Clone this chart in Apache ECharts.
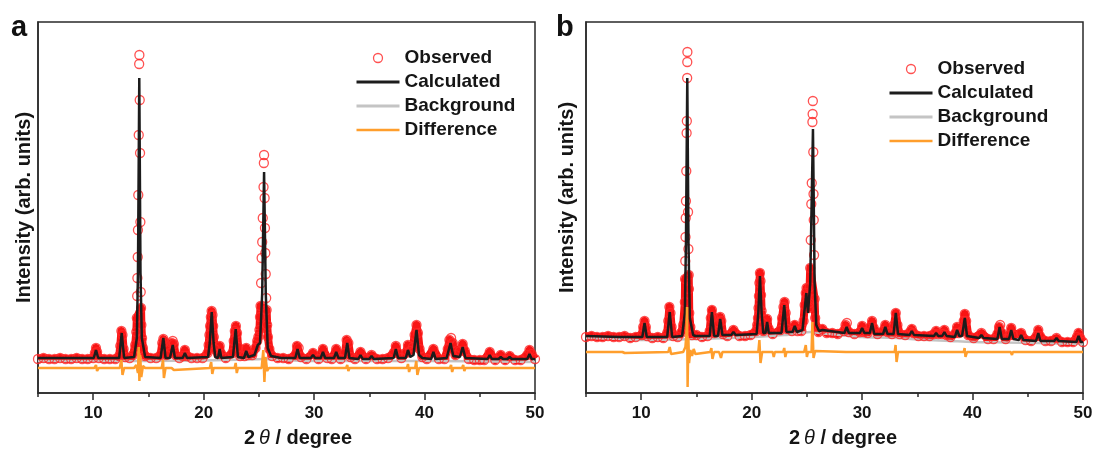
<!DOCTYPE html>
<html><head><meta charset="utf-8">
<script src="https://cdn.jsdelivr.net/npm/echarts@6/dist/echarts.min.js"></script>
<style>html,body{margin:0;padding:0;background:#fff}#c{width:1097px;height:451px}</style>
</head><body><div id="c"></div>
<script>
// ---- data (2θ in degree, intensity in arbitrary units) ----
const xMajorTicks = [10, 20, 30, 40, 50];
const panelLabels = ['a', 'b'];
const seriesNames = ['Observed', 'Calculated', 'Background', 'Difference'];

const obsA = [
[5,34],[5.5,35],[6,34],[6.5,34],[7,35],[7.5,34],[8,34],[8.5,35],[9,34],[9.5,34],
[10.0,35],[10.15,40],[10.25,45],[10.35,41],[10.5,35],
[11,34],[11.5,34],[12,34],
[12.35,37],[12.45,47],[12.55,62],[12.65,58],[12.75,44],[12.9,36],
[13.3,35],[13.6,38],[13.8,48],[13.9,61],[13.95,75],[13.98,97],[14.0,115],[14.03,136],[14.05,163],[14.08,198],[14.12,258],[14.16,329],[14.18,338],[14.21,293],[14.24,240],[14.27,171],[14.3,101],[14.33,85],[14.36,68],[14.42,55],[14.5,45],[14.7,37],
[15.2,35],[15.7,35],
[16.1,38],[16.25,50],[16.35,54],[16.45,51],[16.6,38],
[16.95,40],[17.1,50],[17.2,52],[17.3,49],[17.45,38],
[17.8,35],[18.1,37],[18.3,43],[18.5,37],[18.9,35],[19.4,35],[19.9,35],
[20.35,40],[20.45,48],[20.52,58],[20.58,67],[20.65,76],[20.72,82],[20.8,78],[20.86,67],[20.92,56],[21.0,44],
[21.3,39],[21.45,47],[21.6,39],[22.0,35],
[22.6,40],[22.72,52],[22.82,62],[22.92,67],[23.02,60],[23.12,46],[23.3,37],
[23.7,37],[23.85,45],[24.0,38],[24.4,38],
[24.7,45],[24.85,52],[24.95,56],[25.05,63],[25.1,76],[25.15,87],[25.2,110],[25.25,135],[25.3,151],[25.35,175],[25.42,206],[25.45,230],[25.47,238],[25.52,195],[25.55,165],[25.58,140],[25.62,119],[25.66,95],[25.7,83],[25.75,68],[25.82,56],[25.95,44],[26.2,37],
[26.7,35],[27.2,35],[27.7,34],
[28.3,38],[28.45,47],[28.6,45],[28.8,36],
[29.3,34],[29.9,40],[30.4,34],[30.8,44],[31.2,35],[31.6,34],[32.0,44],[32.4,34],
[32.8,40],[32.95,53],[33.1,50],[33.3,36],
[33.7,34],[34.2,41],[34.7,34],[35.2,38],[35.7,34],[36.2,34],[36.7,35],
[37.2,40],[37.4,47],[37.6,40],[37.9,35],
[38.3,40],[38.5,48],[38.7,42],[38.95,46],[39.1,58],[39.27,68],[39.4,60],[39.55,44],[39.8,36],
[40.2,34],[40.8,44],[41.3,34],[41.8,34],
[42.1,44],[42.25,53],[42.4,55],[42.55,50],[42.8,38],
[43.2,42],[43.45,49],[43.65,42],[44.0,34],[44.5,33],[45.0,33],[45.4,33],
[45.9,41],[46.4,33],[46.9,38],[47.3,33],[47.7,37],[48.2,33],[48.7,33],
[49.3,38],[49.5,43],[49.7,39],[50,34]
];
const calcA = [
[5,35],[8,35],[10.05,35],[10.25,43],[10.45,35],
[12.35,35],[12.58,60],[12.8,35],
[13.7,36],[13.95,55],[14.05,120],[14.17,315],[14.28,120],[14.4,55],[14.7,36],
[16.1,35],[16.35,55],[16.55,35],
[16.95,35],[17.2,48],[17.4,35],
[18.1,35],[18.3,40],[18.5,35],
[20.4,36],[20.55,50],[20.73,81],[20.9,50],[21.05,36],
[21.3,35],[21.45,44],[21.6,35],
[22.65,36],[22.9,64],[23.1,36],
[23.65,35],[23.85,42],[24.05,36],
[24.6,38],[24.9,48],[25.1,50],[25.3,100],[25.47,221],[25.62,100],[25.8,45],[26.1,37],
[27.0,35],
[28.3,35],[28.5,44],[28.7,35],
[29.7,35],[29.9,38],[30.1,35],
[30.6,35],[30.8,41],[31.0,35],
[31.8,35],[32.0,41],[32.2,35],
[32.8,35],[33.0,50],[33.2,35],
[34.0,34],[34.2,38],[34.4,34],
[35.0,34],[35.2,37],[35.4,34],
[37.2,35],[37.4,44],[37.6,35],
[38.3,35],[38.5,43],[38.7,36],[39.0,38],[39.27,63],[39.5,38],[39.8,35],
[40.6,34],[40.8,41],[41.0,34],
[42.0,35],[42.35,50],[42.6,37],[43.2,36],[43.45,46],[43.7,35],
[45.7,34],[45.9,38],[46.1,34],
[46.7,34],[46.9,36],[47.1,34],
[47.5,34],[47.7,36],[47.9,34],
[49.3,34],[49.5,39],[49.7,34],[50,34]
];
const backA = [[5,32],[10,32],[15,32],[20,32.5],[24,33.5],[25.5,34],[27,33],[30,32],[40,32],[50,31]];
const diffA = [
[5,25],[10.1,25],[10.25,28],[10.35,22],[10.5,25],
[12.4,25],[12.55,33],[12.65,18],[12.8,25],
[13.7,25],[13.9,28],[14.05,20],[14.12,46],[14.18,12],[14.25,38],[14.35,16],[14.5,27],[14.7,25],
[16.2,25],[16.32,33],[16.4,15],[16.55,25],
[17.1,25],[17.2,27],[17.3,23],[17.4,25],
[20.55,25],[20.68,31],[20.78,19],[20.9,25],
[22.8,25],[22.9,30],[23.0,20],[23.1,25],
[25.25,25],[25.4,43],[25.5,11],[25.6,36],[25.75,22],[25.9,25],
[32.9,25],[33.0,28],[33.1,22],[33.2,25],
[38.4,25],[38.5,29],[38.6,21],[38.7,25],
[39.15,25],[39.25,32],[39.35,18],[39.5,25],
[42.3,25],[42.4,28],[42.5,21],[42.6,25],
[43.4,25],[43.5,28],[43.6,22],[43.7,25],[50,25]
];

const obsB = [
[5,56],[5.5,57],[6,56],[6.5,56],[7,57],[7.5,56],[8,56],[8.5,57],[9,55],[9.5,56],
[10.05,58],[10.18,66],[10.3,72],[10.42,66],[10.55,57],
[11,55],[11.5,56],[12,55],
[12.35,60],[12.45,72],[12.55,86],[12.65,80],[12.75,66],[12.9,57],
[13.3,56],[13.6,60],[13.8,68],[13.93,70],[13.95,91],[13.97,114],[13.99,132],[14.01,156],[14.03,175],[14.05,192],[14.08,222],[14.11,260],[14.13,272],[14.16,315],[14.17,331],[14.18,341],[14.24,181],[14.27,144],[14.3,118],[14.32,104],[14.35,80],[14.45,66],[14.6,58],
[15.0,58],[15.5,56],[16.0,57],
[16.2,62],[16.3,75],[16.4,83],[16.5,76],[16.62,60],
[16.95,62],[17.05,70],[17.15,76],[17.25,72],[17.4,59],
[17.8,57],[18.35,63],[18.9,57],[19.4,57],[19.9,58],
[20.4,62],[20.5,68],[20.57,75],[20.62,85],[20.66,97],[20.7,110],[20.75,120],[20.8,112],[20.85,98],[20.9,82],[20.97,70],[21.05,62],
[21.25,64],[21.4,74],[21.55,64],[21.9,59],
[22.6,63],[22.75,75],[22.88,86],[22.98,91],[23.08,80],[23.2,64],
[23.65,62],[23.9,68],[24.15,62],[24.5,62],
[24.7,72],[24.8,88],[24.9,100],[24.97,105],[25.05,96],[25.15,85],[25.2,90],[25.25,106],[25.3,125],[25.35,153],[25.4,189],[25.44,210],[25.5,271],[25.52,279],[25.54,292],[25.58,241],[25.6,199],[25.62,173],[25.65,138],[25.7,94],[25.75,75],[25.85,66],[26.05,61],
[26.4,64],[26.8,60],[27.3,60],[27.8,59],
[28.35,62],[28.5,68],[28.62,70],[28.8,61],
[29.3,59],[29.8,61],[30.0,67],[30.2,61],[30.5,60],[30.75,66],[30.9,72],[31.05,65],[31.4,59],
[31.9,62],[32.1,68],[32.3,61],[32.7,59],
[32.9,68],[33.05,80],[33.2,68],[33.4,59],[33.9,58],
[34.35,61],[34.5,64],[34.65,60],[35.1,57],[35.6,57],[36.1,57],
[36.5,59],[36.7,62],[36.9,59],[37.25,59],[37.45,63],[37.65,58],[38.0,56],
[38.45,60],[38.6,66],[38.75,60],[39.05,62],[39.2,72],[39.3,79],[39.42,72],[39.6,58],
[40.1,55],[40.8,60],[41.4,54],[41.9,54],
[42.25,59],[42.4,66],[42.5,68],[42.65,60],[43.0,54],
[43.35,58],[43.5,65],[43.65,58],[44.4,60],[44.8,53],[45.3,52],
[45.8,57],[45.95,63],[46.1,57],[46.6,52],[47.1,52],[47.6,55],[48.1,51],[48.6,51],[49.1,51],
[49.45,56],[49.6,60],[49.75,55],[50,51]
];
const calcB = [
[5,57],[8,56],[10.1,56],[10.3,70],[10.5,56],
[12.35,56],[12.58,81],[12.8,56],
[13.7,57],[13.95,80],[14.05,150],[14.17,315],[14.28,150],[14.4,75],[14.7,58],
[14.9,57],[15.0,59],[15.1,57],
[16.2,57],[16.4,81],[16.6,57],
[16.95,57],[17.15,74],[17.35,58],
[18.15,58],[18.35,61],[18.55,58],
[20.45,59],[20.6,80],[20.75,117],[20.9,80],[21.05,60],
[21.25,60],[21.4,71],[21.55,60],
[22.7,60],[22.95,88],[23.15,61],
[23.7,61],[23.9,67],[24.1,61],
[24.6,63],[24.95,100],[25.1,80],[25.3,110],[25.55,264],[25.7,110],[25.85,68],[26.1,62],
[26.25,61],[26.4,63],[26.55,61],
[28.4,60],[28.6,66],[28.8,60],
[29.8,60],[30.0,65],[30.2,60],
[30.7,60],[30.9,70],[31.1,59],
[31.9,59],[32.1,66],[32.3,59],
[32.85,59],[33.05,80],[33.25,59],
[34.3,58],[34.5,62],[34.7,58],
[36.5,57],[36.7,60],[36.9,57],
[37.25,57],[37.45,61],[37.65,57],
[38.4,56],[38.6,63],[38.8,57],[39.05,57],[39.3,75],[39.5,57],
[40.6,55],[40.8,58],[41.0,55],
[42.25,54],[42.45,66],[42.65,54],
[43.3,54],[43.5,63],[43.7,54],
[44.2,53],[44.4,58],[44.6,53],
[45.75,52],[45.95,60],[46.15,52],
[47.4,52],[47.6,55],[47.8,52],
[49.4,51],[49.6,57],[49.8,51],[50,51]
];
const backB = [[5,55],[8,54],[10,53],[13,53.5],[15,54],[18,55],[20,56],[23,58],[25.3,61],[26.5,59.5],[28,58],[30,56],[33,55],[35,53.5],[38,52],[40,51],[43,50.5],[46,50],[50,49]];
const diffB = [
[5,41],[8.3,41],[8.4,43],[8.5,40],[8.6,41],
[12.45,41],[12.58,46],[12.7,39],[12.8,41],
[13.8,41],[14.0,46],[14.1,60],[14.15,86],[14.2,6],[14.27,55],[14.33,30],[14.45,43],[14.6,37],[14.75,44],[14.9,39],[15.0,41],
[16.25,41],[16.35,45],[16.45,34],[16.6,41],
[17.05,41],[17.15,43],[17.22,35],[17.35,41],
[20.6,41],[20.7,53],[20.8,30],[20.95,41],
[21.9,41],[22.0,36],[22.1,41],
[22.85,41],[22.95,45],[23.05,36],[23.15,41],
[24.75,41],[24.9,48],[25.0,36],[25.1,41],
[25.42,41],[25.5,71],[25.6,35],[25.75,42],[25.9,41],
[28.55,41],[28.6,43],[28.7,39],[28.8,41],
[32.95,41],[33.03,48],[33.12,31],[33.25,41],
[39.2,41],[39.28,45],[39.36,36],[39.5,41],
[43.45,41],[43.5,43],[43.57,38],[43.65,41],[50,41]
];

// ---- chart ----
const FONT = 'Liberation Sans';
const TXT = '#151515';
const RED = '#ff2626';
const panels = [
  {obs: obsA, calc: calcA, back: backA, diff: diffA, band: 90, left: 38, legendLeft: 355, legendTop: 48, xPad: 23, yPad: 0, yGap: 4},
  {obs: obsB, calc: calcB, back: backB, diff: diffB, band: 125, left: 586, legendLeft: 888, legendTop: 59, xPad: 17, yPad: 20, yGap: 9}
];

const grid = [], xAxis = [], yAxis = [], series = [], legend = [], title = [];
panels.forEach((p, i) => {
  grid.push({left: p.left, top: 22, width: 497, height: 371, show: true, borderColor: '#2a2a2a', borderWidth: 1.5, backgroundColor: 'transparent', containLabel: false, outerBoundsMode: 'none'});
  xAxis.push({
    gridIndex: i, type: 'value', min: 5, max: 50, interval: 5,
    axisLine: {show: true, lineStyle: {color: '#2a2a2a', width: 1.5}},
    axisTick: {show: true, length: 4, lineStyle: {color: '#2a2a2a', width: 1.5}},
    axisLabel: {show: true, margin: 12, color: TXT, fontFamily: FONT, fontWeight: 'bold', fontSize: 17,
      formatter: v => (xMajorTicks.indexOf(v) >= 0 ? String(v) : '')},
    splitLine: {show: false},
    name: '{n|2}{t|θ}{n| / degree}', nameLocation: 'middle', nameGap: 35,
    nameTextStyle: {padding: [0, 0, 0, p.xPad], color: TXT, fontFamily: FONT, fontSize: 20, fontWeight: 'bold',
      rich: {n: {fontFamily: FONT, fontSize: 20, fontWeight: 'bold', color: TXT},
             t: {fontFamily: FONT, fontSize: 20, fontStyle: 'italic', fontWeight: 'normal', color: TXT, padding: [0, 0, 0, 4]}}}
  });
  xAxis.push({
    gridIndex: i, type: 'value', min: 5, max: 50, interval: 5, position: 'bottom',
    axisLine: {show: false}, axisLabel: {show: false}, splitLine: {show: false},
    axisTick: {show: true, length: 7, customValues: xMajorTicks, lineStyle: {color: '#2a2a2a', width: 1.5}}
  });
  yAxis.push({
    gridIndex: i, type: 'value', min: 0, max: 371,
    axisLine: {show: true, lineStyle: {color: '#2a2a2a', width: 1.5}},
    axisTick: {show: false}, axisLabel: {show: false}, splitLine: {show: false},
    name: 'Intensity (arb. units)', nameLocation: 'middle', nameRotate: 90, nameGap: p.yGap,
    nameTextStyle: {padding: [0, 0, 0, p.yPad], color: TXT, fontFamily: FONT, fontSize: 20, fontWeight: 'bold'}
  });
  const xi = i * 2;
  series.push({name: 'Observed', type: 'scatter', xAxisIndex: xi, yAxisIndex: i, data: p.obs, z: 3,
    symbol: 'circle', symbolSize: 9,
    itemStyle: {color: 'rgba(255,0,0,0)', borderColor: RED, borderWidth: 1.3}});
  series.push({name: 'Observed', type: 'line', xAxisIndex: xi, yAxisIndex: i, z: 1,
    data: p.obs.filter(d => d[1] <= p.band), symbol: 'none', showSymbol: false,
    lineStyle: {color: '#f81414', width: 8, join: 'round'}});
  series.push({name: 'Background', type: 'line', xAxisIndex: xi, yAxisIndex: i, data: p.back, z: 2,
    symbol: 'none', showSymbol: false, smooth: 0.3, lineStyle: {color: '#c4c4c4', width: 2.5}});
  series.push({name: 'Calculated', type: 'line', xAxisIndex: xi, yAxisIndex: i, data: p.calc, z: 4,
    symbol: 'none', showSymbol: false, lineStyle: {color: '#1c1c1c', width: 2.5}});
  series.push({name: 'Difference', type: 'line', xAxisIndex: xi, yAxisIndex: i, data: p.diff, z: 5,
    symbol: 'none', showSymbol: false, lineStyle: {color: '#ff9e2c', width: 2.5}});
  const hide = {color: 'rgba(0,0,0,0)', borderWidth: 0};
  legend.push({
    orient: 'vertical', left: p.legendLeft, top: p.legendTop, padding: 0,
    itemWidth: 43, itemHeight: 9, itemGap: 4, selectedMode: false,
    textStyle: {color: TXT, fontFamily: FONT, fontSize: 19, fontWeight: 'bold', lineHeight: 20},
    data: [
      {name: seriesNames[0], icon: 'circle', itemStyle: {color: 'rgba(255,0,0,0)', borderColor: RED, borderWidth: 1.3}},
      {name: seriesNames[1], itemStyle: hide, lineStyle: {color: '#1c1c1c', width: 3}},
      {name: seriesNames[2], itemStyle: hide, lineStyle: {color: '#c4c4c4', width: 3}},
      {name: seriesNames[3], itemStyle: hide, lineStyle: {color: '#ff9e2c', width: 2.5}}
    ]
  });
  title.push({text: panelLabels[i], left: i === 0 ? 11 : 556, top: 13, padding: 0,
    textStyle: {fontFamily: FONT, fontSize: 29, fontWeight: 'bold', color: '#111'}});
});

const chart = echarts.init(document.getElementById('c'), null, {renderer: 'canvas'});
chart.setOption({animation: false, backgroundColor: '#fff', title, grid, xAxis, yAxis, legend, series});
</script></body></html>
